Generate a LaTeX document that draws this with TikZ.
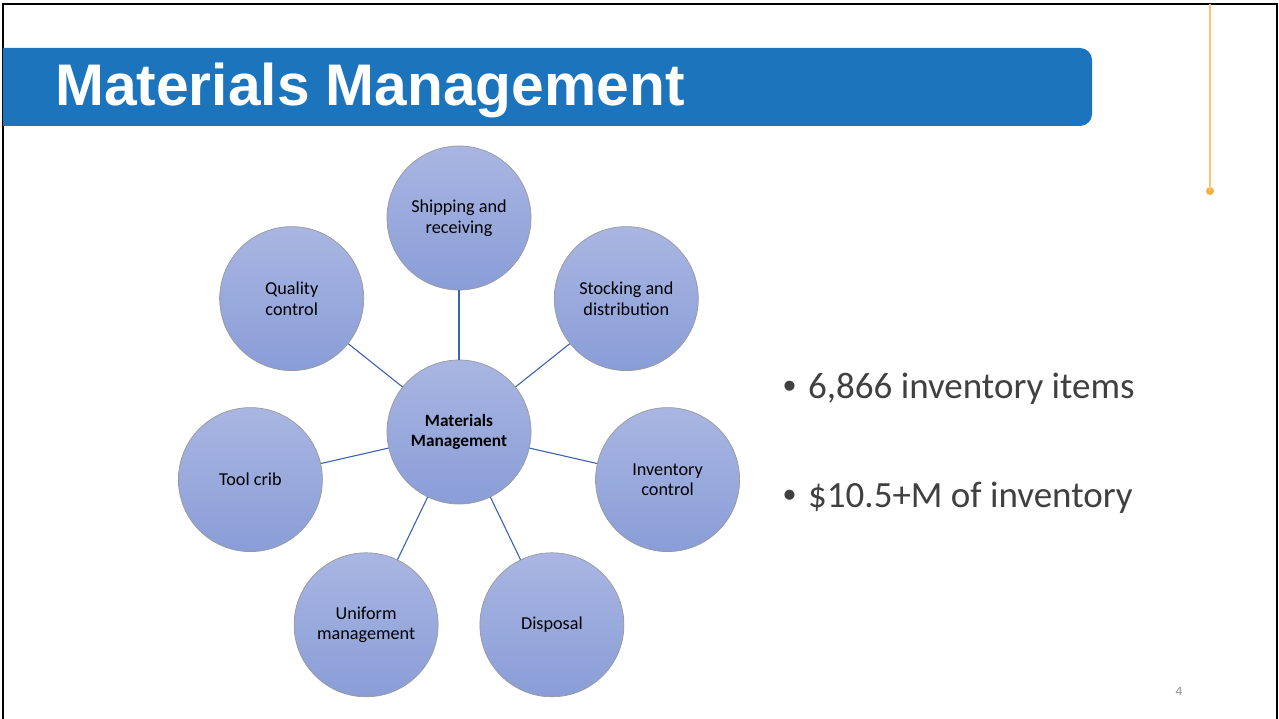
\documentclass[tikz,border=0pt]{standalone}
\usepackage{fontspec}
\setmainfont{Carlito}
\newfontfamily\titlefont{Liberation Sans}
\definecolor{titleblue}{HTML}{1C75BC}
\definecolor{ctop}{HTML}{A9B6E2}
\definecolor{cbot}{HTML}{899DD7}
\definecolor{connblue}{HTML}{3C62B0}
\definecolor{bodygray}{HTML}{404040}
\definecolor{orangeline}{HTML}{FFC56E}
\definecolor{orangedot}{HTML}{FBAE40}
\definecolor{pagegray}{HTML}{8C8C8C}
\tikzset{
  bubble/.style={circle, minimum size=144pt, inner sep=0pt, draw=gray!80, line width=0.7pt,
    top color=ctop, bottom color=cbot, align=center, text=black,
    font=\fontsize{18.2}{20.5}\selectfont},
  conn/.style={draw=connblue, line width=1.1pt},
  bullettext/.style={anchor=base west, inner sep=0pt, text=bodygray, font=\fontsize{37}{44}\selectfont}
}
\begin{document}
\begin{tikzpicture}[x=1pt,y=-1pt]
\useasboundingbox (0,0) rectangle (1279,719);
\fill[white] (0,0) rectangle (1279,719);
% slide frame
\draw[black, line width=2.2pt] (3,719) -- (3,4) -- (1277,4) -- (1277,719);
% title bar
\fill[titleblue] (3,48) [rounded corners=12pt] -- (1092,48) -- (1092,126) [sharp corners] -- (3,126) -- cycle;
\node[anchor=base west, inner sep=0pt, text=white, font=\titlefont\bfseries\fontsize{58.7}{64}\selectfont] (title) at (55,106) {Materials Management};
% orange accent
\coordinate (otop) at (1210,4);
\node[circle, fill=orangedot, minimum size=8pt, inner sep=0pt] (odot) at (1210,191) {};
\draw[orangeline, line width=1.3pt] (otop) -- (odot.center);
% diagram
\node[bubble, font=\bfseries\fontsize{17.3}{20}\selectfont] (c) at (459,432) {Materials\\Management};
\node[bubble] (s1) at (459,218) {Shipping and\\receiving};
\node[bubble] (s2) at (626.3,298.6) {Stocking and\\distribution};
\node[bubble] (s3) at (667.6,479.6) {Inventory\\control};
\node[bubble] (s4) at (551.9,624.8) {Disposal};
\node[bubble] (s5) at (366.1,624.8) {Uniform\\management};
\node[bubble] (s6) at (250.4,479.6) {Tool crib};
\node[bubble] (s7) at (291.7,298.6) {Quality\\control};
\foreach \s in {s1,s2,s3,s4,s5,s6,s7} \draw[conn] (c) -- (\s);
% bullets
\node[bullettext] (b1) at (783,398) {{\titlefont\textbullet}\hspace{12pt}6,866 inventory items};
\node[bullettext] (b2) at (783,507) {{\titlefont\textbullet}\hspace{12pt}\$10.5+M of inventory};
% page number
\node[anchor=base, inner sep=0pt, text=pagegray, font=\fontsize{13}{15}\selectfont] (pg) at (1179,695) {4};
\end{tikzpicture}
\end{document}
